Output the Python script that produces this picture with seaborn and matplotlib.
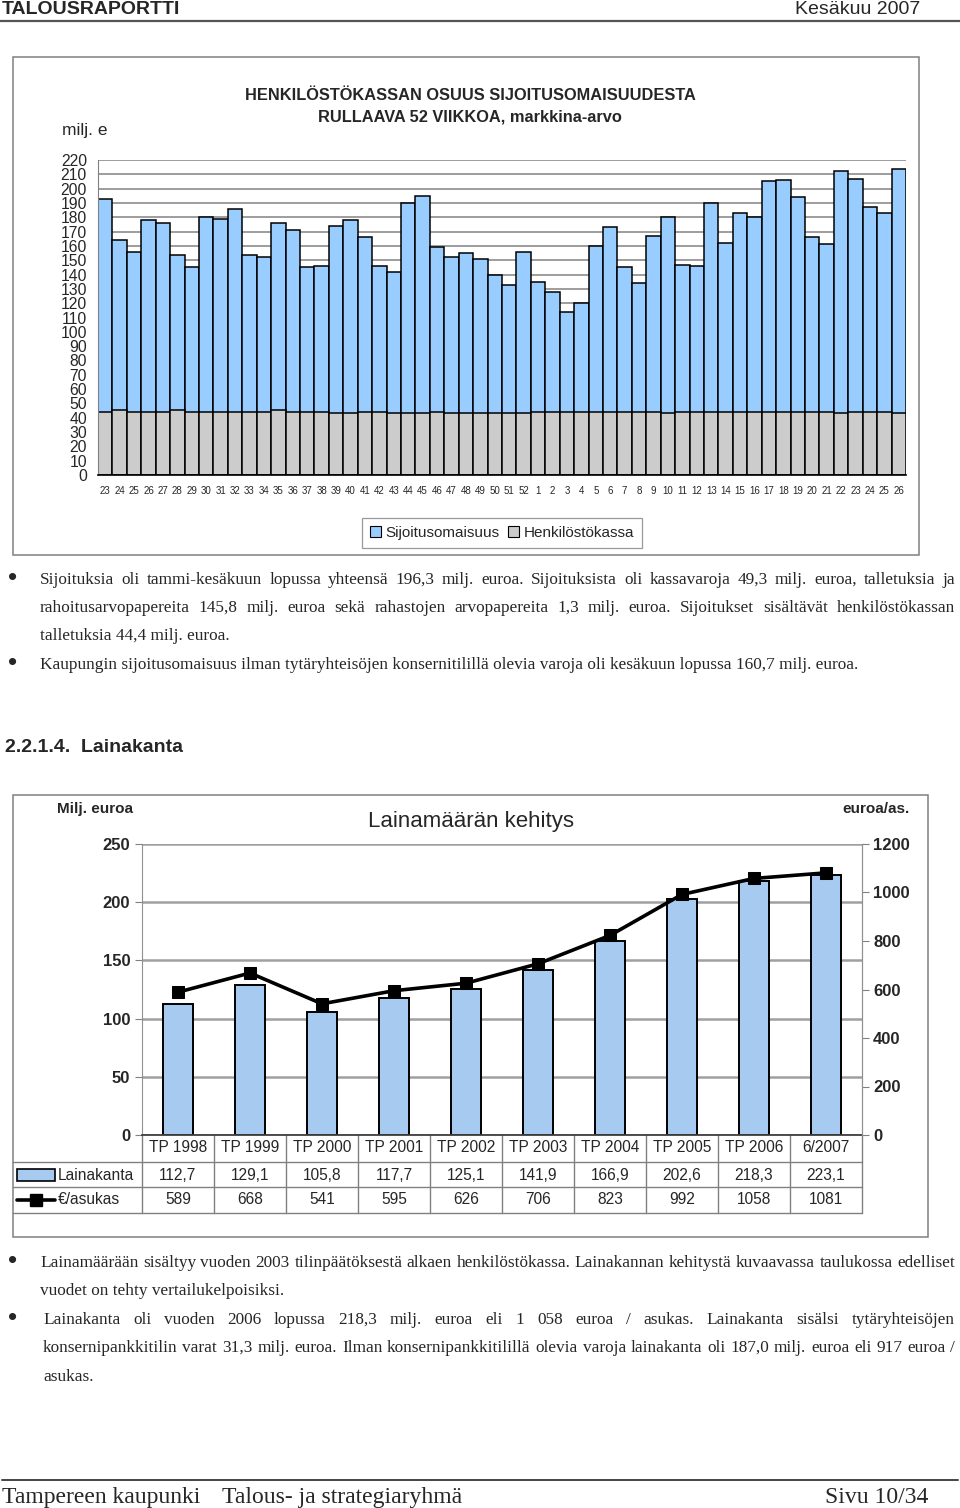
import numpy as np
import pandas as pd
import matplotlib
matplotlib.use('Agg')
import matplotlib.pyplot as plt
import matplotlib.transforms as mtransforms
from matplotlib.patches import Rectangle, Patch
import seaborn as sns

# --- Chart 1: henkilöstökassan osuus sijoitusomaisuudesta (milj. e) ---
weeks = [str(w) for w in list(range(23, 53)) + list(range(1, 27))]
total = [193, 164, 156, 178, 176, 154, 145, 180, 179, 186,
         154, 152, 176, 171, 145, 146, 174, 178, 166, 146,
         142, 190, 195, 159, 152, 155, 151, 140, 133, 156,
         135, 128, 114, 120, 160, 173, 145, 134, 167, 180,
         147, 146, 190, 162, 183, 180, 205, 206, 194, 166,
         161, 212, 207, 187, 183, 214]
kassa = [44.3, 45.5, 44.3, 44.3, 44.3, 45.5, 44.3, 44.3, 44.3, 44.3,
         44.3, 44.3, 45.5, 44.3, 44.3, 44.3, 43.6, 43.6, 44.3, 44.3,
         43.6, 43.6, 43.6, 44.3, 43.6, 43.6, 43.6, 43.6, 43.6, 43.6,
         44.3, 44.3, 44.3, 44.3, 44.3, 44.3, 44.3, 44.3, 44.3, 43.6,
         44.3, 44.3, 44.3, 44.3, 44.3, 44.3, 44.3, 44.3, 44.3, 44.3,
         44.3, 43.6, 44.3, 44.3, 44.3, 43.6]

# --- Chart 2: Lainamäärän kehitys ---
years = ['TP 1998', 'TP 1999', 'TP 2000', 'TP 2001', 'TP 2002',
         'TP 2003', 'TP 2004', 'TP 2005', 'TP 2006', '6/2007']
lainakanta = [112.7, 129.1, 105.8, 117.7, 125.1, 141.9, 166.9, 202.6, 218.3, 223.1]
per_asukas = [589, 668, 541, 595, 626, 706, 823, 992, 1058, 1081]

BLUE1 = '#99CCFF'
GREY1 = '#CCCCCC'
BLUE2 = '#A6CAF0'
SANS = ['Liberation Sans', 'DejaVu Sans']
SERIF = ['Liberation Serif', 'DejaVu Serif']
BODY = 12.4

sns.set_style('white')
plt.rcParams['font.family'] = SANS

W, H = 960, 1508
fig = plt.figure(figsize=(W / 100, H / 100), dpi=100)


def rect(x0, y0, x1, y1):
    return [x0 / W, 1 - y1 / H, (x1 - x0) / W, (y1 - y0) / H]


# page axes in pixel coordinates for text and frames
page = fig.add_axes([0, 0, 1, 1])
page.set_xlim(0, W)
page.set_ylim(H, 0)
page.axis('off')
page.set_autoscale_on(False)

# header
page.text(2, 9, 'TALOUSRAPORTTI', fontsize=14, fontweight='bold', va='center')
page.text(920, 9, 'Kesäkuu 2007', fontsize=14, ha='right', va='center')
page.plot([0, 960], [21, 21], color='#555555', lw=1.6)

# ---------------- chart 1 ----------------
page.add_patch(Rectangle((13, 57), 906, 498, fill=False, ec='#808080', lw=1.1))
page.text(470, 95, 'HENKILÖSTÖKASSAN OSUUS SIJOITUSOMAISUUDESTA', fontsize=11.8,
          fontweight='bold', ha='center', va='center')
page.text(470, 117, 'RULLAAVA 52 VIIKKOA, markkina-arvo', fontsize=11.8,
          fontweight='bold', ha='center', va='center')
page.text(62, 131, 'milj. e', fontsize=12.5, va='center')

ax1 = fig.add_axes(rect(98, 160, 906, 475))
ax1.set_facecolor('none')
idx = np.arange(len(weeks))
df1 = pd.DataFrame({'i': idx, 'total': total, 'kassa': kassa})
sns.barplot(data=df1, x='i', y='total', color=BLUE1, saturation=1, width=1,
            edgecolor='black', linewidth=1.1, errorbar=None, ax=ax1)
sns.barplot(data=df1, x='i', y='kassa', color=GREY1, saturation=1, width=1,
            edgecolor='black', linewidth=1.1, errorbar=None, ax=ax1)
ax1.set_xlim(-0.5, len(weeks) - 0.5)
ax1.set_ylim(0, 220)
ax1.set_yticks(range(0, 221, 10))
ax1.set_xticks(idx)
ax1.set_xticklabels(weeks, fontsize=7)
ax1.set_xticks(idx[:-1] + 0.5, minor=True)
ax1.set_xlabel('')
ax1.set_ylabel('')
ax1.set_axisbelow(True)
ax1.yaxis.grid(True, color='#8c8c8c', lw=1.2)
ax1.tick_params(axis='y', labelsize=11.3, length=3, color='#808080', pad=5)
ax1.tick_params(axis='x', which='major', length=0, pad=8)
ax1.tick_params(axis='x', which='minor', length=3, color='black')
for s in ['top', 'right']:
    ax1.spines[s].set_visible(False)
ax1.spines['left'].set_color('#808080')
ax1.spines['bottom'].set_color('black')
ax1.spines['bottom'].set_linewidth(1.2)
leg = ax1.legend(handles=[Patch(fc=BLUE1, ec='black', lw=0.8, label='Sijoitusomaisuus'),
                          Patch(fc=GREY1, ec='black', lw=0.8, label='Henkilöstökassa')],
                 loc='center', bbox_to_anchor=(502 / W, 1 - 533 / H),
                 bbox_transform=fig.transFigure, ncol=2, fontsize=11,
                 handlelength=0.7, handleheight=0.7, handletextpad=0.3,
                 columnspacing=0.6, borderpad=0.5, fancybox=False, frameon=True)
leg.get_frame().set_edgecolor('#808080')
leg.get_frame().set_linewidth(0.9)

# ---------------- body text helpers ----------------
renderer = fig.canvas.get_renderer()


def justified(line, base, x0, x1, size=BODY):
    words = line.split(' ')
    texts = [page.text(0, base, w, fontsize=size, family=SERIF, va='baseline') for w in words]
    widths = [t.get_window_extent(renderer=renderer).width for t in texts]
    gap = (x1 - x0 - sum(widths)) / (len(words) - 1)
    x = x0
    for t, w in zip(texts, widths):
        t.set_x(x)
        x += w + gap


def plain(line, base, x0, size=BODY):
    page.text(x0, base, line, fontsize=size, family=SERIF, va='baseline')


def bullet(base, x=8):
    page.text(x, base + 1, '•', fontsize=19, family=SANS, va='baseline')


bullet(584)
justified('Sijoituksia oli tammi-kesäkuun lopussa yhteensä 196,3 milj. euroa. Sijoituksista oli '
          'kassavaroja 49,3 milj. euroa, talletuksia ja', 584, 40, 955)
justified('rahoitusarvopapereita 145,8 milj. euroa sekä rahastojen arvopapereita 1,3 milj. euroa. '
          'Sijoitukset sisältävät henkilöstökassan', 612, 40, 955)
plain('talletuksia 44,4 milj. euroa.', 640, 40)
bullet(669)
plain('Kaupungin sijoitusomaisuus ilman tytäryhteisöjen konsernitilillä olevia varoja oli '
      'kesäkuun lopussa 160,7 milj. euroa.', 669, 40)

page.text(5, 748, '2.2.1.4.  Lainakanta', fontsize=14, fontweight='bold', va='center')

# ---------------- chart 2 ----------------
page.add_patch(Rectangle((13, 795), 915, 442, fill=False, ec='#808080', lw=1.1))
page.text(57, 809, 'Milj. euroa', fontsize=11, fontweight='bold', va='center')
page.text(910, 809, 'euroa/as.', fontsize=11, fontweight='bold', ha='right', va='center')
page.text(471, 822, 'Lainamäärän kehitys', fontsize=16, ha='center', va='center')

ax2 = fig.add_axes(rect(142, 844, 862, 1135))
ax2.set_facecolor('none')
df2 = pd.DataFrame({'vuosi': years, 'laina': lainakanta, 'asukas': per_asukas})
sns.barplot(data=df2, x='vuosi', y='laina', color=BLUE2, saturation=1, width=0.42,
            edgecolor='black', linewidth=1.4, errorbar=None, ax=ax2)
ax2.set_ylim(0, 250)
ax2.set_yticks(range(0, 251, 50))
ax2.set_axisbelow(True)
ax2.yaxis.grid(True, color='#a0a0a0', lw=1.8)
ax2.set_xlabel('')
ax2.set_ylabel('')
ax2.tick_params(axis='x', length=0, labelbottom=False)
ax2.tick_params(axis='y', labelsize=12, length=5, color='#808080', pad=3.5)
for lab in ax2.get_yticklabels():
    lab.set_fontweight('bold')
ax2.spines['top'].set_visible(False)
for s in ['left', 'right']:
    ax2.spines[s].set_color('#909090')
ax2.spines['bottom'].set_color('#404040')
ax2.spines['bottom'].set_linewidth(1.3)

ax2r = ax2.twinx()
sns.lineplot(x=np.arange(len(years)), y=per_asukas, color='black', lw=2.6, marker='s',
             markersize=9, markeredgecolor='black', ax=ax2r)
ax2r.set_ylim(0, 1200)
ax2r.set_yticks(range(0, 1201, 200))
ax2r.tick_params(axis='y', labelsize=12, length=5, color='#808080', pad=3)
for lab in ax2r.get_yticklabels():
    lab.set_fontweight('bold')
for s in ['top', 'left', 'bottom']:
    ax2r.spines[s].set_visible(False)
ax2r.spines['right'].set_color('#909090')
ax2.set_xlim(-0.5, len(years) - 0.5)

# data table under chart 2
tr = mtransforms.blended_transform_factory(ax2.transData, page.transData)
grid_c = '#808080'
for k in range(len(years) + 1):
    page.plot([k - 0.5, k - 0.5], [1135, 1213], color=grid_c, lw=1, transform=tr, clip_on=False)
for yy in [1162, 1187, 1213]:
    page.plot([13, 862], [yy, yy], color=grid_c, lw=1, clip_on=False)
for i, (yr, lv, pa) in enumerate(zip(years, lainakanta, per_asukas)):
    page.text(i, 1148, yr, fontsize=11.2, ha='center', va='center', transform=tr)
    page.text(i, 1175, f'{lv:.1f}'.replace('.', ','), fontsize=11.2, ha='center', va='center', transform=tr)
    page.text(i, 1200, str(pa), fontsize=11.2, ha='center', va='center', transform=tr)
page.add_patch(Rectangle((17, 1169), 38, 12, fc=BLUE2, ec='black', lw=1.2))
page.text(58, 1175, 'Lainakanta', fontsize=11.2, va='center')
page.plot([17, 55], [1200, 1200], color='black', lw=2.6)
page.plot([36], [1200], marker='s', ms=8, color='black')
page.text(58, 1200, '€/asukas', fontsize=11.2, va='center')

# text after chart 2
bullet(1267)
justified('Lainamäärään sisältyy vuoden 2003 tilinpäätöksestä alkaen henkilöstökassa. Lainakannan '
          'kehitystä kuvaavassa taulukossa edelliset', 1267, 40, 955)
plain('vuodet on tehty vertailukelpoisiksi.', 1295, 40)
bullet(1324)
justified('Lainakanta oli vuoden 2006 lopussa 218,3 milj. euroa eli 1 058 euroa / asukas. '
          'Lainakanta sisälsi tytäryhteisöjen', 1324, 43, 955)
justified('konsernipankkitilin varat 31,3 milj. euroa. Ilman konsernipankkitilillä olevia varoja '
          'lainakanta oli 187,0 milj. euroa eli 917 euroa /', 1352, 43, 955)
plain('asukas.', 1381, 43)

# footer
page.plot([2, 958], [1480, 1480], color='#444444', lw=1.4)
page.text(2, 1503, 'Tampereen kaupunki', fontsize=17, family=SERIF, va='baseline')
page.text(222, 1503, 'Talous- ja strategiaryhmä', fontsize=17, family=SERIF, va='baseline')
page.text(928, 1503, 'Sivu 10/34', fontsize=17, family=SERIF, ha='right', va='baseline')

fig.savefig('out.png', dpi=100, facecolor='white')
